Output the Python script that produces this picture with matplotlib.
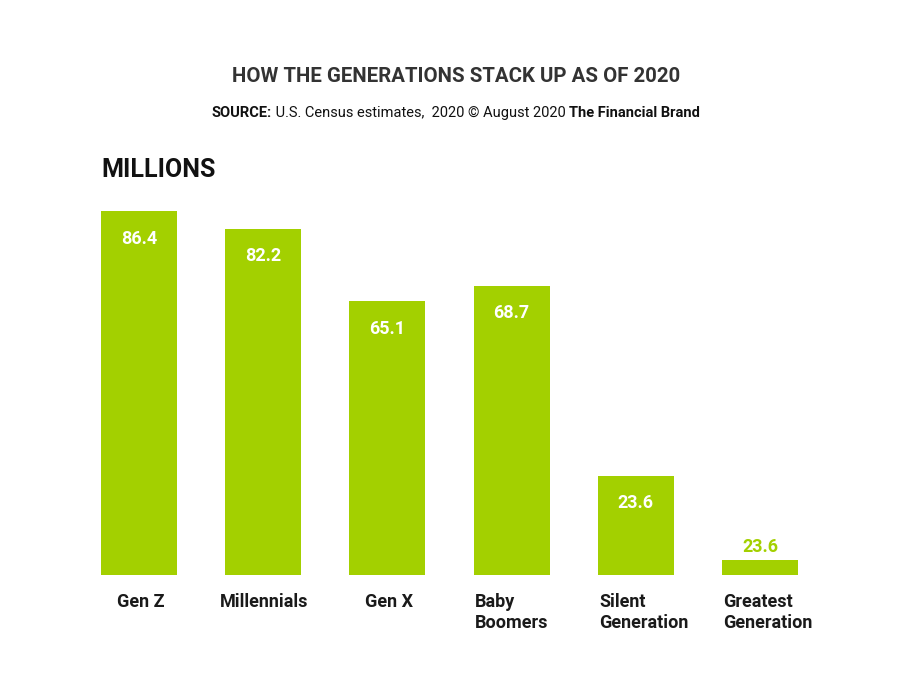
import matplotlib
matplotlib.use("Agg")
import matplotlib.pyplot as plt

categories = ["Gen Z", "Millennials", "Gen X", "Baby\nBoomers", "Silent\nGeneration", "Greatest\nGeneration"]
values = [86.4, 82.2, 65.1, 68.7, 23.6, 3.6]
value_labels = ["86.4", "82.2", "65.1", "68.7", "23.6", "23.6"]

GREEN = "#a3d000"
FONT = "Roboto"
plt.rcParams["font.family"] = [FONT, "DejaVu Sans"]

W, H = 911, 686
fig = plt.figure(figsize=(W / 100, H / 100), dpi=100)
fig.patch.set_facecolor("white")

left, right, bottom, top = 101, 798, 575, 211
ax = fig.add_axes([left / W, (H - bottom) / H, (right - left) / W, (bottom - top) / H])
bw = 0.61
xs = list(range(len(values)))
ax.bar(xs, values, width=bw, align="edge", color=GREEN, linewidth=0)
ax.set_xlim(0, len(values) - 1 + bw)
ax.set_ylim(0, max(values))
ax.axis("off")

for x, v, lab in zip(xs, values, value_labels):
    if v > 10:
        ax.annotate(lab, (x + bw / 2, v), xytext=(0, -20), textcoords="offset points",
                    ha="center", va="center", color="white", fontsize=13, fontweight="bold")
    else:
        ax.annotate(lab, (x + bw / 2, v), xytext=(0, 9), textcoords="offset points",
                    ha="center", va="center", color=GREEN, fontsize=13, fontweight="bold")
    cat = categories[x]
    if "\n" in cat:
        ax.annotate(cat, (x, 0), xytext=(1, -13), textcoords="offset points",
                    ha="left", va="top", color="#1a1a1a", fontsize=13,
                    fontweight="bold", linespacing=1.22, annotation_clip=False)
    else:
        ax.annotate(cat, (x + bw / 2, 0), xytext=(1, -13), textcoords="offset points",
                    ha="center", va="top", color="#1a1a1a", fontsize=13,
                    fontweight="bold", annotation_clip=False)

fig.text(456 / W, 1 - 76 / H, "HOW THE GENERATIONS STACK UP AS OF 2020", ha="center", va="center",
         fontsize=14.7, fontweight="bold", color="#333333")
fig.text(101 / W, 1 - 170 / H, "MILLIONS", ha="left", va="center", fontsize=18,
         fontweight="bold", color="#111111")

# source line with mixed weights
pieces = [("SOURCE:", "bold"), (" U.S. Census estimates,  2020 \u00a9 August 2020 ", "normal"),
          ("The Financial Brand", "bold")]
fig.canvas.draw()
r = fig.canvas.get_renderer()
texts = []
for s, w in pieces:
    t = fig.text(0, 1 - 113 / H, s, ha="left", va="center", fontsize=10.5, fontweight=w, color="#111111")
    texts.append(t)
widths = [t.get_window_extent(r).width for t in texts]
total = sum(widths)
x0 = 456 - total / 2
for t, wd in zip(texts, widths):
    t.set_x(x0 / W)
    x0 += wd

fig.savefig("out.png", dpi=100, facecolor="white")
